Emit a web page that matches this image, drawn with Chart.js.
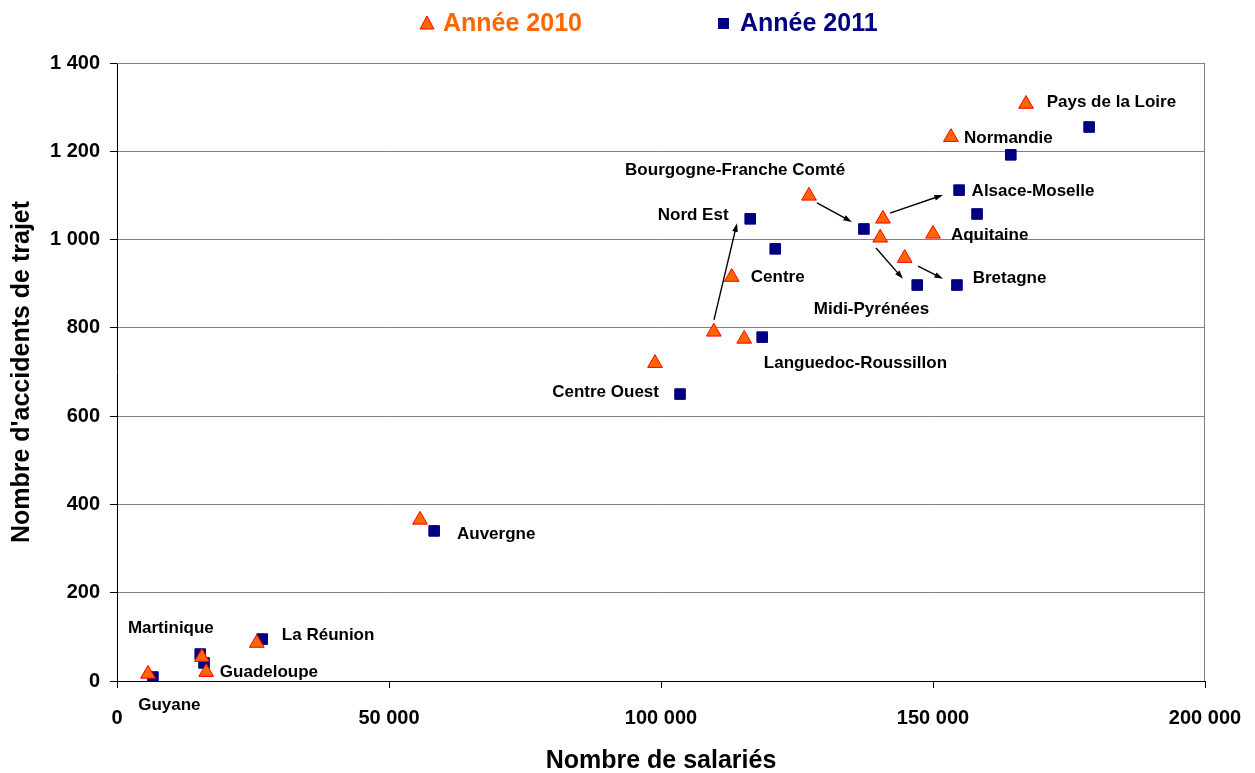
<!DOCTYPE html>
<html>
<head>
<meta charset="utf-8">
<script src="https://cdn.jsdelivr.net/npm/chart.js@4/dist/chart.umd.min.js"></script>
<style>
  html, body { margin: 0; padding: 0; background: #fff; }
  #wrap { width: 1255px; height: 773px; }
</style>
</head>
<body>
<div id="wrap"><canvas id="chart"></canvas></div>
<script>
// Régions (same order for both years)
const REGIONS = ["Guyane", "Martinique", "Guadeloupe", "La Réunion", "Auvergne", "Centre Ouest",
  "Nord Est", "Centre", "Languedoc-Roussillon", "Bourgogne-Franche Comté", "Midi-Pyrénées",
  "Alsace-Moselle", "Bretagne", "Aquitaine", "Normandie", "Pays de la Loire"];

// Nombre de salariés / accidents de trajet
const SAL_2010 = [5700, 15600, 16400, 25700, 55700, 98900, 109700, 113000, 115300, 127200, 140300, 140800, 144800, 150000, 153300, 167100];
const ACC_2010 = [16, 54, 20, 86, 365, 720, 791, 915, 775, 1099, 1004, 1047, 958, 1013, 1232, 1307];
const SAL_2011 = [6600, 15300, 16000, 26700, 58300, 103500, 116400, 121000, 118600, 137300, 147100, 154800, 154400, 158100, 164300, 178700];
const ACC_2011 = [9, 61, 41, 95, 340, 650, 1047, 979, 779, 1024, 897, 1112, 897, 1058, 1192, 1255];

const X_TICKS = [0, 50000, 100000, 150000, 200000];
const Y_TICKS = [0, 200, 400, 600, 800, 1000, 1200, 1400];

// text labels placed in data space (left edge, middle)
const LABELS = [
  ["Pays de la Loire", 170900, 1311],
  ["Normandie", 155700, 1230],
  ["Bourgogne-Franche Comté", 93400, 1157],
  ["Alsace-Moselle", 157100, 1110],
  ["Nord Est", 99400, 1055],
  ["Aquitaine", 153300, 1010],
  ["Centre", 116500, 915],
  ["Bretagne", 157300, 913],
  ["Midi-Pyrénées", 128100, 843],
  ["Languedoc-Roussillon", 118900, 720],
  ["Centre Ouest", 80000, 655],
  ["Auvergne", 62500, 333],
  ["Martinique", 2000, 120],
  ["La Réunion", 30300, 104],
  ["Guadeloupe", 18900, 20],
  ["Guyane", 3900, -54]
];

// arrows 2010 -> 2011 (from x,y to x,y)
const ARROWS = [
  [109740, 818, 113970, 1037],
  [128670, 1083, 135100, 1040],
  [142090, 1060, 151830, 1101],
  [139520, 981, 144480, 911],
  [147240, 940, 151830, 911]
];

const ORANGE = "#FF6600";
const NAVY = "#000080";
const FONT = "'Liberation Sans', Arial, sans-serif";

function spaced(n) {
  return String(n).replace(/\B(?=(\d{3})+(?!\d))/g, " ");
}

const pts = (xs, ys) => xs.map((x, i) => ({ x, y: ys[i] }));

// labels, arrows, plot frame and legend
const extras = {
  id: "extras",
  afterDatasetsDraw(chart) {
    const { ctx, chartArea: a, scales: { x, y } } = chart;
    ctx.save();
    // frame top/right
    ctx.strokeStyle = "#808080";
    ctx.lineWidth = 1;
    ctx.beginPath();
    ctx.moveTo(a.left, a.top + 0.5);
    ctx.lineTo(a.right - 0.5, a.top + 0.5);
    ctx.lineTo(a.right - 0.5, a.bottom);
    ctx.stroke();

    // arrows
    ctx.strokeStyle = "#000";
    ctx.fillStyle = "#000";
    ctx.lineWidth = 1.4;
    ARROWS.forEach(([x1, y1, x2, y2]) => {
      const px1 = x.getPixelForValue(x1), py1 = y.getPixelForValue(y1);
      const px2 = x.getPixelForValue(x2), py2 = y.getPixelForValue(y2);
      const ang = Math.atan2(py2 - py1, px2 - px1);
      const h = 9;
      ctx.beginPath();
      ctx.moveTo(px1, py1);
      ctx.lineTo(px2 - Math.cos(ang) * h * 0.7, py2 - Math.sin(ang) * h * 0.7);
      ctx.stroke();
      ctx.beginPath();
      ctx.moveTo(px2, py2);
      ctx.lineTo(px2 - h * Math.cos(ang - 0.32), py2 - h * Math.sin(ang - 0.32));
      ctx.lineTo(px2 - h * Math.cos(ang + 0.32), py2 - h * Math.sin(ang + 0.32));
      ctx.closePath();
      ctx.fill();
    });

    // region names
    ctx.font = "bold 17px " + FONT;
    ctx.textAlign = "left";
    ctx.textBaseline = "middle";
    ctx.fillStyle = "#000";
    LABELS.forEach(([t, lx, ly]) => {
      ctx.fillText(t, x.getPixelForValue(lx), y.getPixelForValue(ly));
    });

    // legend
    ctx.font = "bold 25px " + FONT;
    ctx.textBaseline = "alphabetic";
    ctx.beginPath();
    ctx.moveTo(427, 16); ctx.lineTo(434, 29); ctx.lineTo(420, 29); ctx.closePath();
    ctx.fillStyle = ORANGE; ctx.fill();
    ctx.strokeStyle = "#FF0000"; ctx.lineWidth = 1; ctx.stroke();
    ctx.fillText("Année 2010", 443, 31);
    ctx.fillStyle = NAVY;
    ctx.fillRect(718, 18, 11, 11);
    ctx.fillText("Année 2011", 740, 31);
    ctx.restore();
  }
};

new Chart(document.getElementById("chart"), {
  type: "scatter",
  data: {
    datasets: [
      {
        label: "Année 2010",
        data: pts(SAL_2010, ACC_2010),
        pointStyle: "triangle",
        pointRadius: 8.5,
        pointHoverRadius: 8.5,
        backgroundColor: ORANGE,
        borderColor: "#FF0000",
        borderWidth: 1
      },
      {
        label: "Année 2011",
        data: pts(SAL_2011, ACC_2011),
        pointStyle: "rect",
        pointRadius: 7.5,
        pointHoverRadius: 7.5,
        backgroundColor: NAVY,
        borderColor: NAVY,
        borderWidth: 1
      }
    ]
  },
  options: {
    responsive: true,
    maintainAspectRatio: false,
    animation: false,
    layout: { padding: { left: 0, right: 50, top: 63, bottom: 0 } },
    plugins: {
      legend: { display: false },
      tooltip: { enabled: false }
    },
    scales: {
      x: {
        type: "linear",
        min: 0,
        max: 200000,
        afterFit: s => { s.height = 92; s.paddingLeft = 0; s.paddingRight = 0; },
        afterBuildTicks: s => { s.ticks = X_TICKS.map(v => ({ value: v })); },
        ticks: {
          padding: 18,
          color: "#000",
          font: { family: FONT, size: 20, weight: "bold" },
          callback: v => spaced(v)
        },
        grid: { drawOnChartArea: false, tickLength: 7, tickColor: "#000" },
        border: { color: "#000", width: 1 },
        title: {
          display: true,
          text: "Nombre de salariés",
          color: "#000",
          font: { family: FONT, size: 25, weight: "bold" },
          padding: { top: 0, bottom: -3 }
        }
      },
      y: {
        min: 0,
        max: 1400,
        afterFit: s => { s.width = 117; s.paddingTop = 0; s.paddingBottom = 0; },
        afterBuildTicks: s => { s.ticks = Y_TICKS.map(v => ({ value: v })); },
        ticks: {
          padding: 10,
          color: "#000",
          font: { family: FONT, size: 20, weight: "bold" },
          callback: v => spaced(v)
        },
        grid: { color: "#808080", lineWidth: 1, tickLength: 7, tickColor: "#000" },
        border: { color: "#000", width: 1 },
        title: {
          display: true,
          text: "Nombre d'accidents de trajet",
          color: "#000",
          font: { family: FONT, size: 25, weight: "bold" },
          padding: { top: 7, bottom: 0 }
        }
      }
    }
  },
  plugins: [extras]
});
</script>
</body>
</html>
